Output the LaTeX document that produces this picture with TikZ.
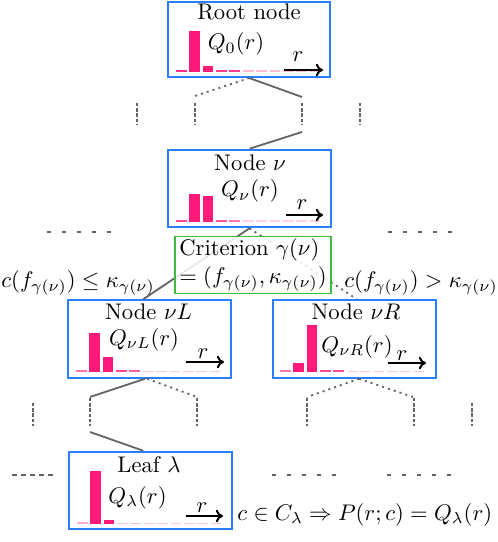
\documentclass[tikz,border=0pt]{standalone}
\usepackage{amsmath}
\usetikzlibrary{arrows.meta}
\definecolor{boxblue}{RGB}{42,127,255}
\definecolor{critgreen}{RGB}{60,190,60}
\definecolor{barpink}{RGB}{255,25,120}
\definecolor{linkgray}{RGB}{100,100,100}
\newcommand{\histo}[3]{\foreach \hh/\oo [count=\ii from 0] in {#3} {\fill[barpink,fill opacity=\oo] (#1+\ii*13.36,#2) rectangle ++(10.7,-\hh);}}
\begin{document}
\begin{tikzpicture}[x=0.4425pt,y=-0.4425pt,
  box/.style={draw=boxblue,line width=0.9pt,inner sep=0pt,minimum width=72pt,minimum height=34.3pt},
  crit/.style={draw=critgreen,line width=0.7pt,fill=white,fill opacity=0.85,text opacity=1,align=left,inner xsep=2pt,inner ysep=1pt},
  txt/.style={inner sep=0pt,anchor=base},
  link/.style={draw=linkgray,line width=0.8pt},
  dots/.style={link,dash pattern=on 0.9pt off 1.8pt},
  vdash/.style={link,dash pattern=on 1.5pt off 0.8pt},
  hdash/.style={link,dash pattern=on 1.8pt off 4.8pt},
  hdashtight/.style={link,dash pattern=on 2.2pt off 1.8pt},
  raxis/.style={-{To[length=3.2pt,width=5.5pt]},line width=0.9pt}]
\useasboundingbox (0,0) rectangle (498,542);

% boxes
\node[box,minimum width=71.5pt,minimum height=33.2pt] (root) at (249.25,39.5) {};
\node[box] (nu) at (249.5,188.5) {};
\node[box] (nuL) at (149.5,339) {};
\node[box] (nuR) at (354.5,339) {};
\node[box] (leaf) at (150.5,490.5) {};

% coordinates of branches
\coordinate (r1) at (195,96);
\coordinate (r2) at (302,97);
\coordinate (v1a) at (195,103); \coordinate (v1b) at (195,125);
\coordinate (v2a) at (302,103); \coordinate (v2b) at (302,125);
\coordinate (v3a) at (137,103); \coordinate (v3b) at (137,125);
\coordinate (v4a) at (360,103); \coordinate (v4b) at (360,125);
\coordinate (r2c) at (302,132);

\draw[dots] (root.south) -- (r1);
\draw[link] (root.south) -- (r2);
\foreach \a/\b in {v1a/v1b,v2a/v2b,v3a/v3b,v4a/v4b} \draw[vdash] (\a) -- (\b);
\draw[link] (r2c) -- (nu.north);

% split of nu
\draw[link] (nu.south) -- ([xshift=-2.8pt]nuL.north);
\draw[dots] (nu.south) -- ([xshift=1pt]nuR.north);

\coordinate (h1a) at (47,232); \coordinate (h1b) at (111,232);
\coordinate (h2a) at (388,232); \coordinate (h2b) at (456,232);
\draw[hdash] (h1a) -- (h1b);
\draw[hdash] (h2a) -- (h2b);

% below nuL
\coordinate (l1) at (90,397); \coordinate (l2) at (197,397);
\coordinate (lv1a) at (90,398); \coordinate (lv1b) at (90,426);
\coordinate (lv2a) at (197,398); \coordinate (lv2b) at (197,426);
\coordinate (lv3a) at (33,403); \coordinate (lv3b) at (33,426);
\coordinate (l1c) at (90,432);
\draw[link] ([xshift=-2pt]nuL.south) -- (l1);
\draw[dots] ([xshift=-1pt]nuL.south) -- (l2);
\draw[link] (l1c) -- ([xshift=-3.2pt]leaf.north);

% below nuR
\coordinate (m1) at (307,397); \coordinate (m2) at (413,397);
\coordinate (mv1a) at (307,398); \coordinate (mv1b) at (307,426);
\coordinate (mv2a) at (414,398); \coordinate (mv2b) at (414,426);
\coordinate (mv3a) at (472,403); \coordinate (mv3b) at (472,426);
\draw[dots] ([xshift=2pt]nuR.south) -- (m1);
\draw[dots] ([xshift=2pt]nuR.south) -- (m2);
\foreach \a/\b in {lv1a/lv1b,lv2a/lv2b,lv3a/lv3b,mv1a/mv1b,mv2a/mv2b,mv3a/mv3b} \draw[vdash] (\a) -- (\b);

\coordinate (b1a) at (12,475); \coordinate (b1b) at (54,475);
\coordinate (b2a) at (272,475); \coordinate (b2b) at (339,475);
\coordinate (b3a) at (387,475); \coordinate (b3b) at (453,475);
\draw[hdashtight] (b1a) -- (b1b);
\draw[hdash] (b2a) -- (b2b);
\draw[hdash] (b3a) -- (b3b);

% criterion
\node[crit] (crit) at (253,265) {Criterion $\gamma(\nu)$\\$= (f_{\gamma(\nu)},\kappa_{\gamma(\nu)})$};
\node[txt,anchor=base west] (condL) at (1,287) {$c(f_{\gamma(\nu)}) \le \kappa_{\gamma(\nu)}$};
\node[txt,anchor=base west] (condR) at (344,287) {$c(f_{\gamma(\nu)}) > \kappa_{\gamma(\nu)}$};

% histograms
\histo{176}{72}{2/0.9,41/1,6/1,2/0.85,2/0.85,1.5/0.3,1.5/0.3,1.5/0.3,1.5/0.3,1.5/0.3,1.5/0.3}
\histo{176}{222}{2/0.8,28/1,26/1,2/0.75,2/0.6,1.5/0.2,1.5/0.2,1.5/0.2,1.5/0.2,1.5/0.2,1.5/0.2}
\histo{76}{372}{2/0.6,39/1,15/1,2/0.8,2/0.7,1.5/0.25,1.5/0.25,1.5/0.25,1.5/0.25,1.5/0.25,1.5/0.25}
\histo{280}{372}{2/0.6,9/1,47/1,2/0.8,2/0.8,1.5/0.25,1.5/0.25,1.5/0.25,1.5/0.25,1.5/0.25,1.5/0.25}
\histo{77}{524}{2/0.35,53/1,4/1,1.5/0.25,1.5/0.3,1.5/0.25,1.5/0.25,1.5/0.25,1.5/0.25,1.5/0.25,1.5/0.25}

% texts in boxes
\node[txt] (rootT) at (249,20) {Root node};
\node[txt] (rootQ) at (236,50) {$Q_0(r)$};
\node[txt] (rootR) at (298,62) {$r$};
\draw[raxis] (284,70) -- (323,70);

\node[txt] (nuT) at (250,171) {Node $\nu$};
\node[txt] (nuQ) at (250,197) {$Q_\nu(r)$};
\node[txt] (nuRr) at (302,210) {$r$};
\draw[raxis] (286,215) -- (323,215);

\node[txt] (nuLT) at (148.5,319) {Node $\nu L$};
\node[txt] (nuLQ) at (144,345) {$Q_{\nu L}(r)$};
\node[txt] (nuLr) at (203,358) {$r$};
\draw[raxis] (186,362) -- (224,362);

\node[txt] (nuRT) at (356,319) {Node $\nu R$};
\node[txt] (nuRQ) at (357,352) {$Q_{\nu R}(r)$};
\node[txt] (nuRr2) at (402,360) {$r$};
\draw[raxis] (388,363) -- (426,363);

\node[txt] (leafT) at (149,472) {Leaf $\lambda$};
\node[txt] (leafQ) at (137.5,503) {$Q_\lambda(r)$};
\node[txt] (leafr) at (202,512) {$r$};
\draw[raxis] (186,516) -- (223,516);

\node[txt,anchor=base west] (formula) at (237,520) {$c \in C_\lambda \Rightarrow P(r;c) = Q_\lambda(r)$};
\end{tikzpicture}
\end{document}
